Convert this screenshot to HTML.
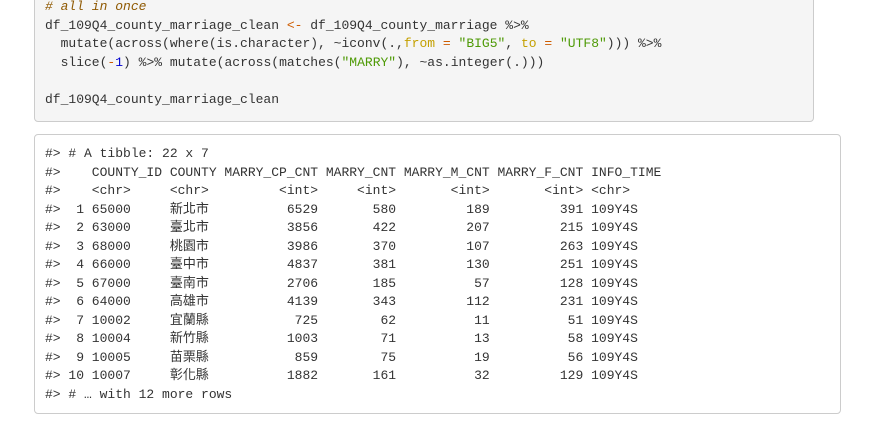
<!DOCTYPE html>
<html><head><meta charset="utf-8">
<style>
body{margin:0;width:871px;height:421px;background:#fff;overflow:hidden;position:relative;}
pre{margin:0;font-family:"Liberation Mono","Noto Sans CJK TC",monospace;font-size:13px;line-height:18.5px;color:#333;white-space:pre;}
.blk1{position:absolute;left:34px;top:-10px;width:780px;height:132px;background:#f5f5f5;border:1px solid #ccc;border-radius:4px;box-sizing:border-box;}
.blk1 pre{position:absolute;left:10px;top:7px;}
.blk2{position:absolute;left:34px;top:134px;width:807px;height:280px;background:#fff;border:1px solid #ccc;border-radius:4px;box-sizing:border-box;}
.blk2 pre{position:absolute;left:10px;top:10px;}
.c{color:#8f5902;font-style:italic}.o{color:#ce5c00}.y{color:#c4a000}.s{color:#4e9a06}.n{color:#0000cf}
.k{display:inline-block;width:6ch;}
</style></head><body>
<div class="blk1"><pre><span class="c"># all in once</span>
df_109Q4_county_marriage_clean <span class="o">&lt;-</span> df_109Q4_county_marriage %&gt;%
  mutate(across(where(is.character), ~iconv(.,<span class="y">from</span> <span class="o">=</span> <span class="s">"BIG5"</span>, <span class="y">to</span> <span class="o">=</span> <span class="s">"UTF8"</span>))) %&gt;%
  slice(<span class="o">-</span><span class="n">1</span>) %&gt;% mutate(across(matches(<span class="s">"MARRY"</span>), ~as.integer(.)))

df_109Q4_county_marriage_clean</pre></div>
<div class="blk2"><pre>#&gt; # A tibble: 22 x 7
#&gt;    COUNTY_ID COUNTY MARRY_CP_CNT MARRY_CNT MARRY_M_CNT MARRY_F_CNT INFO_TIME
#&gt;    &lt;chr&gt;     &lt;chr&gt;         &lt;int&gt;     &lt;int&gt;       &lt;int&gt;       &lt;int&gt; &lt;chr&gt;
#&gt;  1 65000     <span class="k">新北市</span>         6529       580         189         391 109Y4S
#&gt;  2 63000     <span class="k">臺北市</span>         3856       422         207         215 109Y4S
#&gt;  3 68000     <span class="k">桃園市</span>         3986       370         107         263 109Y4S
#&gt;  4 66000     <span class="k">臺中市</span>         4837       381         130         251 109Y4S
#&gt;  5 67000     <span class="k">臺南市</span>         2706       185          57         128 109Y4S
#&gt;  6 64000     <span class="k">高雄市</span>         4139       343         112         231 109Y4S
#&gt;  7 10002     <span class="k">宜蘭縣</span>          725        62          11          51 109Y4S
#&gt;  8 10004     <span class="k">新竹縣</span>         1003        71          13          58 109Y4S
#&gt;  9 10005     <span class="k">苗栗縣</span>          859        75          19          56 109Y4S
#&gt; 10 10007     <span class="k">彰化縣</span>         1882       161          32         129 109Y4S
#&gt; # … with 12 more rows</pre></div>
</body></html>
